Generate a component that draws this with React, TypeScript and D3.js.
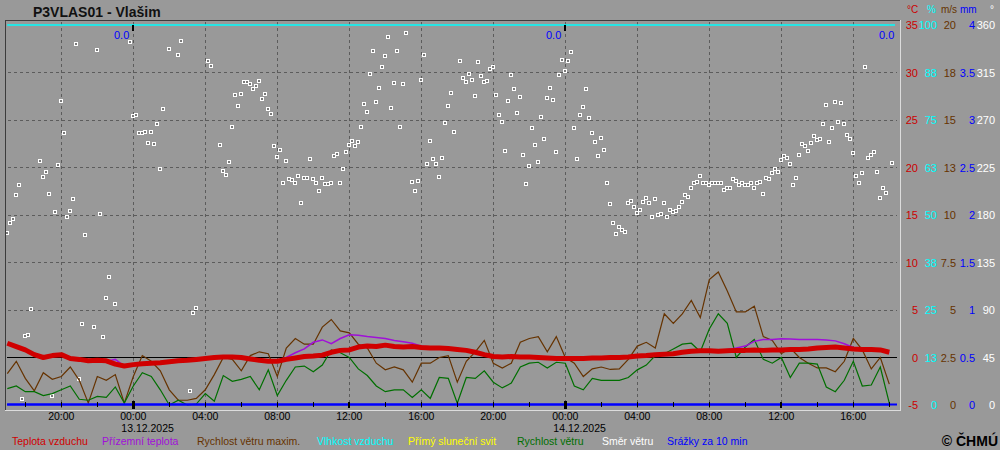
import React, { useEffect } from "react";
import * as d3 from "d3";

// hours relative to 13.12.2025 00:00, series sampled every 30 min from 12.12 17:00
const seriesStart = -7;
const seriesStep = 0.5;

const airTemp = [
  1.5, 1.15, 0.8, 0.3, 0.0, 0.2, 0.3, -0.1, -0.2, -0.35,
  -0.3, -0.35, -0.7, -0.9, -0.75, -0.65, -0.6, -0.55, -0.45, -0.35,
  -0.3, -0.2, -0.1, 0.0, 0.05, 0.05, 0.0, -0.15, -0.3, -0.4,
  -0.4, -0.2, -0.05, 0.1, 0.15, 0.25, 0.55, 0.75, 0.8, 1.1,
  1.2, 1.15, 1.3, 1.15, 1.1, 1.15, 1.05, 1.0, 1.0, 0.95,
  0.85, 0.75, 0.55, 0.3, 0.1, 0.05, 0.1, 0.05, 0.05, 0.0,
  -0.05, -0.1, -0.1, -0.1, -0.1, -0.05, -0.05, 0.0, 0.0, 0.05,
  0.15, 0.2, 0.3, 0.35, 0.4, 0.55, 0.65, 0.7, 0.7, 0.65,
  0.7, 0.75, 0.75, 0.8, 0.75, 0.8, 0.8, 0.85, 0.85, 0.9,
  1.0, 1.05, 1.1, 1.0, 0.9, 0.85, 0.85, 0.8, 0.55,
];

const groundTemp = [
  1.4, 1.05, 0.7, 0.2, -0.1, 0.1, 0.2, -0.2, -0.2, -0.35,
  -0.35, -0.4, -0.2, -0.9, -0.8, -0.7, -0.6, -0.6, -0.5, -0.4,
  -0.35, -0.25, -0.15, -0.05, 0.0, 0.0, -0.05, -0.2, -0.35, -0.4,
  -0.3, 0.0, 0.5, 0.9, 1.6, 1.85, 1.45, 2.0, 2.4, 2.35,
  2.2, 2.1, 2.0, 1.8, 1.65, 1.5, 1.2, 1.0, 0.95, 0.9,
  0.8, 0.7, 0.5, 0.25, 0.05, 0.0, 0.05, 0.0, 0.0, -0.05,
  -0.1, -0.15, -0.15, -0.15, -0.15, -0.1, -0.1, -0.05, -0.05, 0.0,
  0.1, 0.15, 0.25, 0.3, 0.35, 0.5, 0.6, 0.65, 0.65, 0.6,
  0.85, 1.0, 1.2, 1.7, 1.9, 1.9, 1.97, 1.95, 1.9, 1.9,
  1.9, 1.85, 1.75, 1.45, 1.05, 0.8, 0.8, 0.75, 0.5,
];

const windGust = [
  1.65, 2.3, 1.4, 0.75, 1.7, 1.35, 1.5, 2.0, 1.3, 0.1,
  1.5, 1.3, 1.6, 0.1, 1.5, 2.6, 2.3, 1.8, 0.8, 0.25,
  0.25, 0.35, 0.8, 1.6, 2.5, 2.4, 1.8, 2.6, 2.8, 2.7,
  1.5, 3.0, 3.5, 3.2, 3.2, 4.1, 4.5, 3.9, 3.8, 3.2,
  3.0, 2.2, 1.85, 2.0, 1.85, 1.2, 2.2, 2.2, 2.5, 2.6,
  1.2, 2.3, 2.8, 3.4, 2.2, 1.95, 2.2, 3.3, 3.5, 3.6,
  2.8, 3.6, 2.5, 2.2, 1.5, 1.9, 2.0, 1.87, 1.9, 2.4,
  3.1, 3.3, 3.0, 4.8, 4.3, 4.8, 5.5, 4.6, 6.6, 7.0,
  6.0, 4.9, 4.9, 5.2, 3.6, 3.4, 2.7, 3.0, 2.5, 2.2,
  1.95, 1.95, 1.75, 2.3, 3.5, 2.9, 1.9, 2.5, 1.1,
];

const windSpeed = [
  0.86, 1.0, 0.7, 0.7, 0.5, 0.6, 0.8, 1.0, 0.3, 0.25,
  0.45, 0.4, 0.95, 0.1, 1.0, 1.7, 1.5, 0.8, 0.0, 0.25,
  0.0, 0.05, 0.6, 0.2, 1.55, 1.25, 1.35, 1.5, 0.8, 1.85,
  0.5, 1.3, 2.0, 2.05, 1.75, 2.1, 2.9, 2.75, 2.5, 1.9,
  1.55, 1.0, 0.7, 0.8, 0.8, 0.4, 0.8, 0.35, 1.45, 1.4,
  0.1, 1.45, 1.4, 1.8, 1.2, 0.9, 1.15, 2.0, 2.2, 2.25,
  1.95, 2.25, 2.2, 1.0, 0.8, 1.4, 1.3, 1.3, 1.3, 1.45,
  1.85, 2.1, 2.6, 2.7, 2.95, 3.2, 3.25, 2.8, 4.0, 4.8,
  4.3, 2.5, 3.05, 3.45, 2.4, 2.2, 2.5, 1.45, 2.2, 2.2,
  2.15, 0.95, 0.7, 1.3, 2.3, 1.0, 1.05, 2.0, 0.1,
];

const humidity = [
  100, 100, 100, 100, 100, 100, 100, 100, 100, 100,
  100, 100, 100, 100, 100, 100, 100, 100, 100, 100,
  100, 100, 100, 100, 100, 100, 100, 100, 100, 100,
  100, 100, 100, 100, 100, 100, 100, 100, 100, 100,
  100, 100, 100, 100, 100, 100, 100, 100, 100, 100,
  100, 100, 100, 100, 100, 100, 100, 100, 100, 100,
  100, 100, 100, 100, 100, 100, 100, 100, 100, 100,
  100, 100, 100, 100, 100, 100, 100, 100, 100, 100,
  100, 100, 100, 100, 100, 100, 100, 100, 100, 100,
  100, 100, 100, 100, 100, 100, 100, 100, 100,
];

const precip10 = humidity.map(() => 0);

// wind direction, 10-minute slots counted from 12.12 17:00
const dirStep = 1 / 6;
const dirSlot = [
  0, 1, 2, 3, 4, 5, 6, 7, 8, 11, 12, 13, 14, 15, 16, 17, 18, 19, 20, 21, 22, 23, 24, 25, 26,
  29, 30, 31, 32, 33, 34, 36, 41, 42, 43, 44, 45, 46, 47, 48, 49, 50, 51, 52, 54, 57, 58,
  61, 62, 63, 67, 68, 71, 72, 73, 74, 75, 76, 77, 78, 79, 80, 81, 82, 83, 84, 85, 86, 87,
  88, 89, 90, 91, 92, 93, 94, 95, 96, 97, 98, 99, 100, 101, 102, 103, 104, 105, 106, 107,
  108, 109, 110, 111, 112, 113, 114, 115, 116, 117, 118, 119, 120, 121, 122, 123, 124, 125,
  126, 127, 128, 129, 130, 131, 132, 133, 135, 136, 137, 138, 139, 140, 141, 142, 143, 144,
  145, 146, 147, 148, 149, 151, 152, 153, 154, 155, 156, 157, 158, 159, 160, 161, 162, 163,
  164, 165, 166, 167, 168, 169, 170, 171, 172, 173, 174, 175, 176, 177, 178, 179, 180, 181,
  182, 183, 184, 185, 186, 187, 188, 189, 190, 191, 192, 193, 194, 195, 196, 197, 198, 199,
  200, 201, 202, 203, 204, 205, 206, 207, 208, 209, 210, 211, 212, 213, 214, 215, 216, 217,
  218, 219, 220, 221, 222, 223, 224, 225, 226, 227, 228, 229, 230, 231, 232, 233, 234, 235,
  236, 237, 238, 239, 240, 241, 242, 243, 244, 245, 246, 247, 248, 249, 250, 251, 252, 253,
  254, 255, 256, 257, 258, 259, 260, 261, 262, 263, 264, 265, 266, 267, 268, 269, 270, 271,
  272, 273, 274, 275, 276, 277, 278, 279, 280, 281, 282, 283, 284, 285, 286, 287, 288, 289,
  290, 291, 292, 293, 295,
];
const dirDeg = [
  163, 172, 176, 199, 208, 6, 65, 66, 91, 231, 216, 221, 200, 9, 183, 227, 288, 258, 178, 184, 195, 342, 25, 77, 161,
  74, 336, 181, 64, 101, 121, 96, 344, 274, 275, 258, 258, 259, 248, 259, 247, 266, 224, 280, 337, 332, 345,
  13, 87, 92, 326, 321, 246, 222, 218, 230, 263, 294, 283, 295, 306, 306, 304, 299, 302, 307, 290, 295, 280,
  276, 245, 235, 242, 210, 231, 214, 213, 210, 217, 191, 215, 215, 233, 214, 210, 203, 215, 209, 209,
  210, 236, 238, 210, 224, 240, 246, 250, 245, 249, 263, 285, 278, 314, 335, 287, 300, 320,
  331, 349, 281, 305, 335, 263, 304, 352, 211, 203, 212, 308, 332, 228, 250, 233, 228, 216,
  234, 267, 283, 296, 259, 326, 310, 306, 314, 308, 293, 325, 312, 306, 307, 318, 320, 294,
  275, 268, 241, 288, 313, 299, 277, 292, 237, 209, 226, 262, 246, 230, 273, 252, 291, 300,
  289, 240, 313, 327, 316, 326, 334, 262, 233, 275, 282, 299, 272, 258, 249, 236, 253, 242,
  210, 190, 172, 162, 169, 166, 164, 191, 193, 188, 182, 185, 192, 196, 191, 178, 195, 180,
  181, 191, 178, 185, 183, 184, 188, 192, 199, 197, 206, 210, 211, 217, 210, 210, 208, 210,
  210, 210, 210, 204, 206, 206, 214, 212, 208, 210, 208, 208, 210, 206, 210, 211, 200, 215,
  214, 220, 224, 221, 232, 236, 234, 228, 208, 215, 237, 247, 245, 241, 248, 255, 251, 252,
  266, 284, 249, 262, 287, 268, 286, 266, 256, 252, 239, 217, 210, 220, 320, 234, 237, 240,
  221, 196, 206, 201, 229,
];

const timeTickHours = [-4, 0, 4, 8, 12, 16, 20, 24, 28, 32, 36, 40];
const timeTickLabels = ["20:00", "00:00", "04:00", "08:00", "12:00", "16:00", "20:00", "00:00", "04:00", "08:00", "12:00", "16:00"];
const dateHours = [0, 24];
const dateLabels = ["13.12.2025", "14.12.2025"];
const dailyPrecipHours = [0, 24, 42.5];
const dailyPrecipLabels = ["0.0", "0.0", "0.0"];

const tempTicks = [-5, 0, 5, 10, 15, 20, 25, 30, 35];
const humTickLabels = ["0", "13", "25", "38", "50", "63", "75", "88", "100"];
const windTickLabels = ["0", "2.5", "5", "7.5", "10", "13", "15", "18", "20"];
const mmTickLabels = ["0", "0.5", "1", "1.5", "2", "2.5", "3", "3.5", "4"];
const degTickLabels = ["0", "45", "90", "135", "180", "225", "270", "315", "360"];

const legendLabels = ["Teplota vzduchu", "Přízemní teplota", "Rychlost větru maxim.", "Vlhkost vzduchu", "Přímý sluneční svit", "Rychlost větru", "Směr větru", "Srážky za 10 min"];

const C = {
  bg: "#999999",
  grid: "#5c5c5c",
  red: "#d00000",
  purple: "#a010d8",
  brown: "#663300",
  cyan: "#00ffff",
  yellow: "#ffff00",
  green: "#006f00",
  white: "#ffffff",
  blue: "#0000ff",
};
const legendColors = [C.red, C.purple, C.brown, C.cyan, C.yellow, C.green, C.white, C.blue];
const legendX = [12, 102, 197, 317, 408, 517, 602, 667];

const FONT = "'Liberation Sans', Arial, Helvetica, sans-serif";

const App: React.FC = () => {
  useEffect(() => {
    document.body.style.margin = "0";
    document.body.style.background = C.bg;
  }, []);

  const W = 1000;
  const H = 450;
  const frame = { left: 5, top: 20, right: 900, bottom: 410 };

  const x = d3.scaleLinear().domain([-7, 42]).range([7.3, 889.3]);
  const yT = d3.scaleLinear().domain([-5, 35]).range([405, 25]);
  const yW = d3.scaleLinear().domain([0, 20]).range([405, 25]);
  const yH = d3.scaleLinear().domain([0, 100]).range([405, 25]);
  const yMm = d3.scaleLinear().domain([0, 4]).range([405, 25]);
  const yD = d3.scaleLinear().domain([0, 360]).range([405, 25]);

  const hourAt = (i: number) => seriesStart + i * seriesStep;
  const mk = (scale: d3.ScaleLinear<number, number>) =>
    d3.line<number>().x((_, i) => x(hourAt(i))).y((d) => scale(d));

  const gridHours = timeTickHours;
  const gridTemps = tempTicks.filter((t) => t > -5 && t < 35 && t !== 0);
  const smallTicks = d3.range(-6, 43, 2);

  const rightCols = [
    { labels: tempTicks.map(String), x: 918, color: "#cc0000" },
    { labels: humTickLabels, x: 937, color: C.cyan },
    { labels: windTickLabels, x: 956, color: C.brown },
    { labels: mmTickLabels, x: 975, color: C.blue },
    { labels: degTickLabels, x: 995, color: C.white },
  ];

  return (
    <div style={{ position: "absolute", left: 0, top: 0 }}>
      <svg width={W} height={H} style={{ display: "block", background: C.bg }} fontFamily={FONT}>
        <rect x={0} y={0} width={W} height={H} fill={C.bg} />

        {/* title */}
        <text x={33} y={17} fontSize={14} fontWeight="bold" fill="#111">P3VLAS01 - Vlašim</text>

        {/* grid */}
        <g stroke={C.grid} strokeDasharray="3,3" shapeRendering="crispEdges">
          {gridHours.map((h) => (
            <line key={"v" + h} x1={x(h)} x2={x(h)} y1={frame.top + 2} y2={frame.bottom - 2} />
          ))}
          {gridTemps.map((t) => (
            <line key={"h" + t} x1={frame.left + 3} x2={frame.right - 3} y1={yT(t)} y2={yT(t)} />
          ))}
        </g>

        {/* zero line */}
        <line x1={frame.left + 2} x2={frame.right - 3} y1={yT(0)} y2={yT(0)} stroke="#000" shapeRendering="crispEdges" />

        {/* wind direction */}
        <g shapeRendering="crispEdges">
          {dirSlot.map((s, i) => {
            const cx = Math.round(x(seriesStart + s * dirStep));
            const cy = Math.round(yD(dirDeg[i]));
            return (
              <g key={i}>
                <rect x={cx - 2} y={cy - 2} width={4} height={4} fill={C.white} />
                <rect x={cx - 1} y={cy - 1} width={2} height={2} fill="#7a7a7a" />
              </g>
            );
          })}
        </g>

        {/* wind lines */}
        <path d={mk(yW)(windGust) || ""} fill="none" stroke={C.brown} strokeWidth={1.2} />
        <path d={mk(yW)(windSpeed) || ""} fill="none" stroke={C.green} strokeWidth={1.2} />

        {/* temperatures */}
        <path d={mk(yT)(groundTemp) || ""} fill="none" stroke={C.purple} strokeWidth={1.5} />
        <path d={mk(yT)(airTemp) || ""} fill="none" stroke={C.red} strokeWidth={5} strokeLinejoin="round" />

        {/* humidity */}
        <line x1={frame.left + 2} x2={x(hourAt(0))} y1={yH(100)} y2={yH(100)} stroke={C.cyan} strokeWidth={1.5} />
        <path d={mk(yH)(humidity) || ""} fill="none" stroke={C.cyan} strokeWidth={1.5} />
        <line x1={x(hourAt(humidity.length - 1))} x2={frame.right - 5} y1={yH(100)} y2={yH(100)} stroke={C.cyan} strokeWidth={1.5} />

        {/* precipitation baseline and series */}
        <line x1={frame.left + 2} x2={frame.right - 3} y1={yMm(0) - 0.5} y2={yMm(0) - 0.5} stroke={C.blue} strokeWidth={2} />
        <path d={mk(yMm)(precip10) || ""} transform="translate(0,-0.5)" fill="none" stroke={C.blue} strokeWidth={2} />

        {/* time ticks on bottom */}
        <g fill="#000" shapeRendering="crispEdges">
          {smallTicks.map((h) => {
            const big = h % 24 === 0;
            const mid = !big && h % 12 === 0;
            const w = big ? 3 : mid ? 2 : 1;
            const top = big ? 401 : 402;
            const bot = big ? 409 : mid ? 408 : 407;
            return <rect key={h} x={Math.round(x(h)) - Math.floor(w / 2)} y={top} width={w} height={bot - top} />;
          })}
          {dateHours.map((h) => (
            <rect key={"t" + h} x={Math.round(x(h)) - 1} y={25} width={2} height={6} />
          ))}
        </g>

        {/* daily precipitation totals */}
        {dailyPrecipHours.map((h, i) => (
          <text key={"p" + i} x={x(h) - 4} y={39} fontSize={11} fill={C.blue} textAnchor="end">{dailyPrecipLabels[i]}</text>
        ))}

        {/* frame */}
        <g shapeRendering="crispEdges">
          <line x1={frame.left} x2={frame.right} y1={frame.top + 0.5} y2={frame.top + 0.5} stroke="#3c3c3c" strokeWidth={1} />
          <line x1={frame.left + 0.5} x2={frame.left + 0.5} y1={frame.top} y2={frame.bottom} stroke="#3c3c3c" strokeWidth={1} />
          <line x1={frame.right + 0.5} x2={frame.right + 0.5} y1={frame.top} y2={frame.bottom + 1} stroke="#dcdcdc" strokeWidth={1} />
          <line x1={frame.left} x2={frame.right + 1} y1={frame.bottom + 0.5} y2={frame.bottom + 0.5} stroke="#dcdcdc" strokeWidth={1} />
        </g>

        {/* x labels */}
        <g fontSize={10.5} fill="#000">
          {timeTickHours.map((h, i) => (
            <text key={"x" + i} x={x(h)} y={420} textAnchor="middle">{timeTickLabels[i]}</text>
          ))}
          {dateHours.map((h, i) => (
            <text key={"d" + i} x={x(h) - 12} y={432}>{dateLabels[i]}</text>
          ))}
        </g>

        {/* right axes */}
        <g fontSize={10}>
          <text x={907} y={13} fill="#cc0000">°C</text>
          <text x={927} y={13} fill={C.cyan}>%</text>
          <text x={941} y={13} fill={C.brown}>m/s</text>
          <text x={960} y={13} fill={C.blue}>mm</text>
          <text x={990} y={13} fill={C.white}>°</text>
        </g>
        <g fontSize={11}>
          {rightCols.map((col, ci) =>
            tempTicks.map((t, i) => (
              <text key={ci + "-" + i} x={col.x} y={yT(t) + 4} textAnchor="end" fill={col.color}>{col.labels[i]}</text>
            ))
          )}
        </g>

        {/* legend */}
        <g fontSize={10.5}>
          {legendLabels.map((l, i) => (
            <text key={l} x={legendX[i]} y={445} fill={legendColors[i]}>{l}</text>
          ))}
        </g>
        <text x={998} y={446} textAnchor="end" fontSize={14} fontWeight="bold" fill="#000">© ČHMÚ</text>
      </svg>
    </div>
  );
};

export default App;
